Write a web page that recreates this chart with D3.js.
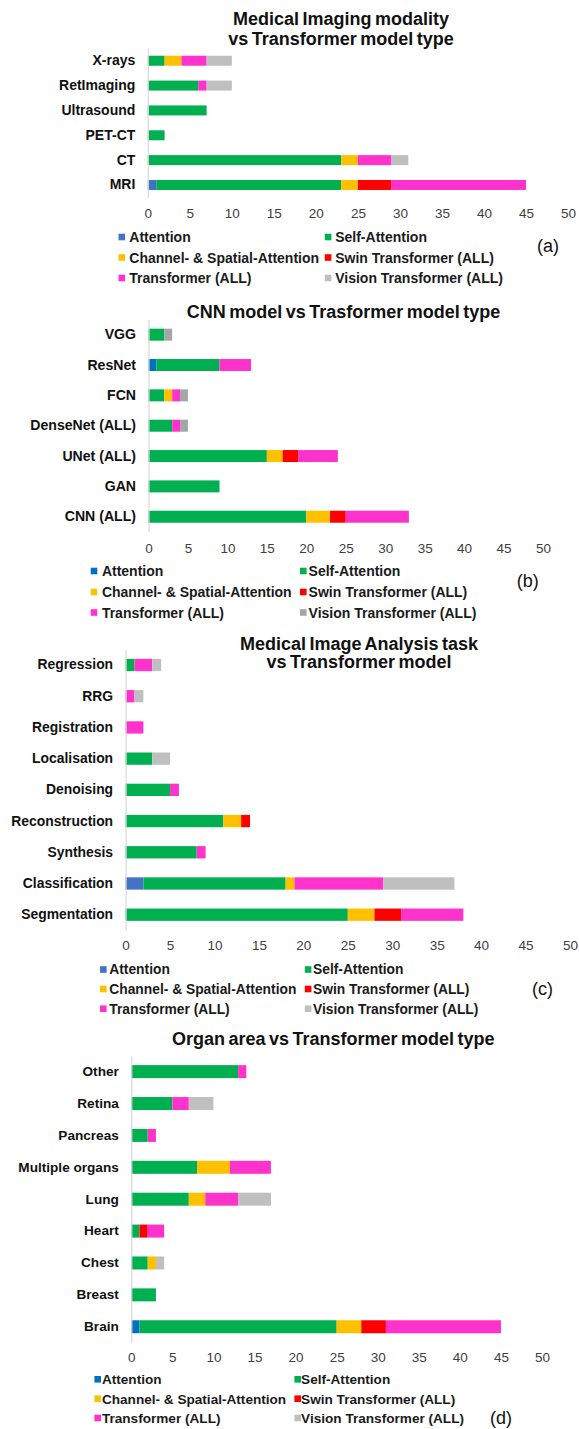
<!DOCTYPE html>
<html>
<head>
<meta charset="utf-8">
<script src="https://cdn.jsdelivr.net/npm/d3@7"></script>
<style>
  html, body { margin: 0; padding: 0; background: #ffffff; }
  svg { display: block; }
  text { font-family: "Liberation Sans", Arial, sans-serif; }
</style>
</head>
<body>
<svg id="chart" width="579" height="1429"></svg>
<script>
// ---------- DATA ----------
const seriesNames = ["Attention", "Self-Attention", "Channel- & Spatial-Attention",
                     "Swin Transformer (ALL)", "Transformer (ALL)", "Vision Transformer (ALL)"];
const tickValues = [0, 5, 10, 15, 20, 25, 30, 35, 40, 45, 50];

// (a) Medical Imaging modality
const modalityCategories = ["X-rays", "RetImaging", "Ultrasound", "PET-CT", "CT", "MRI"];
const modalityAttention  = [0, 0, 0, 0, 0, 1];
const modalitySelfAtt    = [2, 6, 7, 2, 23, 22];
const modalityChanSpat   = [2, 0, 0, 0, 2, 2];
const modalitySwin       = [0, 0, 0, 0, 0, 4];
const modalityTransf     = [3, 1, 0, 0, 4, 16];
const modalityViT        = [3, 3, 0, 0, 2, 0];

// (b) CNN model
const cnnCategories = ["VGG", "ResNet", "FCN", "DenseNet (ALL)", "UNet (ALL)", "GAN", "CNN (ALL)"];
const cnnAttention  = [0, 1, 0, 0, 0, 0, 0];
const cnnSelfAtt    = [2, 8, 2, 3, 15, 9, 20];
const cnnChanSpat   = [0, 0, 1, 0, 2, 0, 3];
const cnnSwin       = [0, 0, 0, 0, 2, 0, 2];
const cnnTransf     = [0, 4, 1, 1, 5, 0, 8];
const cnnViT        = [1, 0, 1, 1, 0, 0, 0];

// (c) Medical Image Analysis task
const taskCategories = ["Regression", "RRG", "Registration", "Localisation", "Denoising",
                        "Reconstruction", "Synthesis", "Classification", "Segmentation"];
const taskAttention  = [0, 0, 0, 0, 0, 0, 0, 2, 0];
const taskSelfAtt    = [1, 0, 0, 3, 5, 11, 8, 16, 25];
const taskChanSpat   = [0, 0, 0, 0, 0, 2, 0, 1, 3];
const taskSwin       = [0, 0, 0, 0, 0, 1, 0, 0, 3];
const taskTransf     = [2, 1, 2, 0, 1, 0, 1, 10, 7];
const taskViT        = [1, 1, 0, 2, 0, 0, 0, 8, 0];

// (d) Organ area
const organCategories = ["Other", "Retina", "Pancreas", "Multiple organs", "Lung",
                         "Heart", "Chest", "Breast", "Brain"];
const organAttention  = [0, 0, 0, 0, 0, 0, 0, 0, 1];
const organSelfAtt    = [13, 5, 2, 8, 7, 1, 2, 3, 24];
const organChanSpat   = [0, 0, 0, 4, 2, 0, 1, 0, 3];
const organSwin       = [0, 0, 0, 0, 0, 1, 0, 0, 3];
const organTransf     = [1, 2, 1, 5, 4, 2, 0, 0, 14];
const organViT        = [0, 3, 0, 0, 4, 0, 1, 0, 0];

// ---------- STYLES / LAYOUT ----------
const coloursAC = ["#4472C4", "#00B050", "#FFC000", "#FF0000", "#FF33CC", "#BFBFBF"];
const coloursB  = ["#0070C0", "#00B050", "#FFC000", "#FF0000", "#FF33CC", "#A6A6A6"];
const coloursD  = ["#0070C0", "#00B050", "#FFC000", "#FF0000", "#FF33CC", "#BFBFBF"];

const panels = [
  { cats: modalityCategories,
    series: [modalityAttention, modalitySelfAtt, modalityChanSpat, modalitySwin, modalityTransf, modalityViT],
    colours: coloursAC,
    title: ["Medical Imaging modality", "vs Transformer model type"], titleX: 341, titleY: [24.5, 44.5],
    x0: 147.8, x1: 568, bandTop: 48.3, bandBottom: 197.4, barH: 10, tickY: 213.5,
    catFont: 14, legFont: 14,
    legRows: [237, 257.5, 278], legSw: [118.5, 324.8], legTx: [129.3, 335.2],
    letter: "(a)", letterX: 548, letterY: 245.5 },
  { cats: cnnCategories,
    series: [cnnAttention, cnnSelfAtt, cnnChanSpat, cnnSwin, cnnTransf, cnnViT],
    colours: coloursB,
    title: ["CNN model vs Trasformer model type"], titleX: 343.5, titleY: [318],
    x0: 148.5, x1: 543, bandTop: 319.5, bandBottom: 531.9, barH: 12, tickY: 548,
    catFont: 14.1, legFont: 14,
    legRows: [571, 592, 612.5], legSw: [90.7, 300], legTx: [101.9, 308.6],
    letter: "(b)", letterX: 527.8, letterY: 581 },
  { cats: taskCategories,
    series: [taskAttention, taskSelfAtt, taskChanSpat, taskSwin, taskTransf, taskViT],
    colours: coloursAC,
    title: ["Medical Image Analysis task", "vs Transformer model"], titleX: 359, titleY: [649.5, 667.5],
    x0: 125.6, x1: 570, bandTop: 649.4, bandBottom: 930.3, barH: 12.3, tickY: 945,
    catFont: 13.9, legFont: 13.8,
    legRows: [969.5, 989, 1008.7], legSw: [100, 304.8], legTx: [109.3, 313],
    letter: "(c)", letterX: 542.6, letterY: 989 },
  { cats: organCategories,
    series: [organAttention, organSelfAtt, organChanSpat, organSwin, organTransf, organViT],
    colours: coloursD,
    title: ["Organ area vs Transformer model type"], titleX: 333.3, titleY: [1044.5],
    x0: 131.3, x1: 542, bandTop: 1055.7, bandBottom: 1342.7, barH: 13, tickY: 1357.5,
    catFont: 13.6, legFont: 13.6,
    legRows: [1379.3, 1398.7, 1418], legSw: [94.4, 294.4], legTx: [101.9, 301.1],
    letter: "(d)", letterX: 501, letterY: 1418 }
];

const svg = d3.select("#chart");

panels.forEach(p => {
  const g = svg.append("g");

  // table for the stack
  const rows = p.cats.map((c, i) => {
    const r = { cat: c };
    seriesNames.forEach((s, k) => { r[s] = p.series[k][i]; });
    return r;
  });
  const stacked = d3.stack().keys(seriesNames)(rows);

  const x = d3.scaleLinear().domain([0, 50]).range([p.x0, p.x1]);
  const y = d3.scaleBand().domain(p.cats).range([p.bandTop, p.bandBottom]);
  const colour = d3.scaleOrdinal().domain(seriesNames).range(p.colours);

  // title
  const t = g.append("text")
    .attr("text-anchor", "middle")
    .attr("font-size", 18).attr("font-weight", "bold")
    .attr("fill", "#111").attr("word-spacing", "-1.5");
  p.title.forEach((line, i) => {
    t.append("tspan").attr("x", p.titleX).attr("y", p.titleY[i]).text(line);
  });

  // bars
  g.append("g").selectAll("g")
    .data(stacked).join("g")
    .attr("fill", d => colour(d.key))
    .selectAll("rect")
    .data(d => d.filter(v => v[1] - v[0] > 0))
    .join("rect")
    .attr("x", d => x(d[0]))
    .attr("width", d => x(d[1]) - x(d[0]))
    .attr("y", d => y(d.data.cat) + y.bandwidth() / 2 - p.barH / 2)
    .attr("height", p.barH);

  // category axis (left)
  const yAxis = g.append("g")
    .attr("transform", `translate(${p.x0},0)`)
    .call(d3.axisLeft(y).tickSize(0).tickSizeOuter(0).tickPadding(12.5));
  yAxis.select(".domain").attr("stroke", "#D9D9D9").attr("stroke-width", 1.2);
  yAxis.selectAll("text")
    .attr("font-family", "Liberation Sans, Arial, sans-serif")
    .attr("font-size", p.catFont).attr("font-weight", "bold").attr("fill", "#111");

  // value axis (bottom, labels only)
  const xAxis = g.append("g")
    .attr("transform", `translate(0,${p.tickY})`)
    .call(d3.axisBottom(x).tickValues(tickValues).tickSize(0).tickPadding(0));
  xAxis.select(".domain").remove();
  xAxis.selectAll("text")
    .attr("y", 0).attr("dy", "0.36em")
    .attr("font-family", "Liberation Sans, Arial, sans-serif")
    .attr("font-size", 13.5).attr("fill", "#404040");

  // legend
  seriesNames.forEach((s, k) => {
    const row = Math.floor(k / 2), col = k % 2;
    const cy = p.legRows[row];
    g.append("rect")
      .attr("x", p.legSw[col]).attr("y", cy - 3.3)
      .attr("width", 6.6).attr("height", 6.6)
      .attr("fill", colour(s));
    g.append("text")
      .attr("x", p.legTx[col]).attr("y", cy).attr("dy", "0.36em")
      .attr("font-size", p.legFont).attr("font-weight", "bold").attr("fill", "#1a1a1a")
      .text(s);
  });

  // panel letter
  g.append("text")
    .attr("x", p.letterX).attr("y", p.letterY).attr("dy", "0.34em")
    .attr("text-anchor", "middle")
    .attr("font-family", "Liberation Serif, Times New Roman, serif")
    .attr("font-size", 18).attr("fill", "#111")
    .text(p.letter);
});
</script>
</body>
</html>
